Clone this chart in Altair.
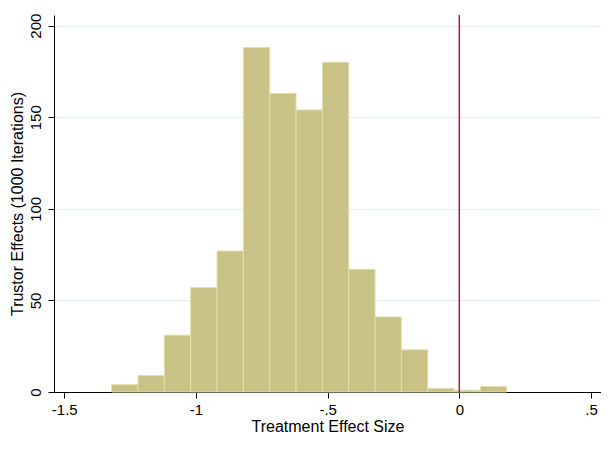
import altair as alt
import pandas as pd

bin_start = [-1.32, -1.22, -1.12, -1.02, -0.92, -0.82, -0.72, -0.62, -0.52, -0.42, -0.32, -0.22, -0.12, -0.02, 0.08]
bin_width = 0.1
counts = [4, 9, 31, 57, 77, 188, 163, 154, 180, 67, 41, 23, 2, 1, 3]
x_ticks = [-1.5, -1, -0.5, 0, 0.5]
y_ticks = [0, 50, 100, 150, 200]
ref_line = [0]

df = pd.DataFrame({
    "start": bin_start,
    "end": [s + bin_width for s in bin_start],
    "count": counts,
})
ref = pd.DataFrame({"x": ref_line})

FONT = "Liberation Sans"

xscale = alt.Scale(domain=[-1.539, 0.538], nice=False, zero=False)
yscale = alt.Scale(domain=[0, 205.8], nice=False)

bars = alt.Chart(df).mark_bar(
    color="#c9c287", stroke="#e2dea9", strokeWidth=1
).encode(
    x=alt.X("start:Q", scale=xscale,
            axis=alt.Axis(values=x_ticks, title="Treatment Effect Size",
                          labelExpr="replace(replace(format(datum.value, '~g'), '\u2212', '-'), '0.', '.')",
                          grid=False, tickSize=6, labelPadding=4,
                          labelFontSize=15, titleFontSize=16, titleFontWeight="normal",
                          labelFont=FONT, titleFont=FONT, labelColor="#000", titleColor="#000",
                          domainColor="#000", tickColor="#000", titlePadding=1)),
    x2="end:Q",
    y=alt.Y("count:Q", scale=yscale,
            axis=alt.Axis(values=y_ticks, title="Trustor Effects (1000 Iterations)",
                          grid=True, gridColor="#e6eeef", gridWidth=1,
                          tickSize=6, labelAngle=270, labelAlign="center", labelBaseline="bottom",
                          labelPadding=5, labelFontSize=15, titleFontSize=16, titleFontWeight="normal",
                          labelFont=FONT, titleFont=FONT, labelColor="#000", titleColor="#000",
                          domainColor="#000", tickColor="#000", titlePadding=3)),
    y2=alt.datum(0),
)

rule = alt.Chart(ref).mark_rule(color="#a81c3c", strokeWidth=1.5).encode(
    x=alt.X("x:Q", scale=xscale)
)

chart = alt.layer(bars, rule).properties(
    width=547, height=377,
    autosize=alt.AutoSizeParams(type="none"),
    padding={"left": 46, "top": 7, "right": 0, "bottom": 48},
).configure_view(stroke=None)

chart.save("out.html", embed_options={"renderer": "svg", "actions": False})
